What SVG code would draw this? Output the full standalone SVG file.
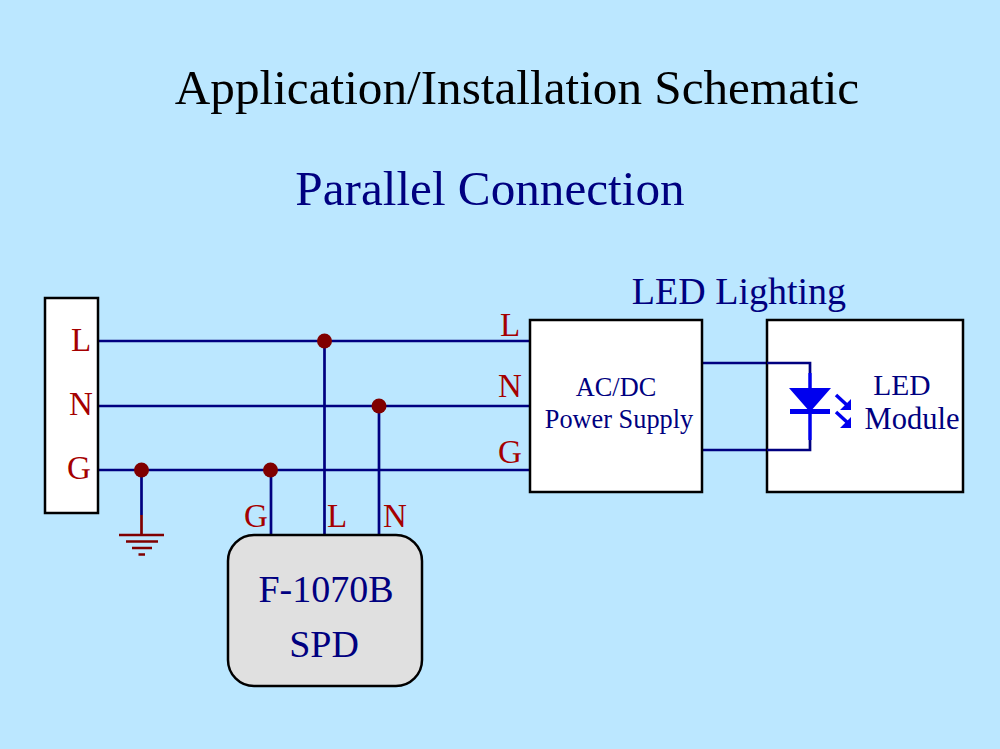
<svg xmlns="http://www.w3.org/2000/svg" width="1000" height="749" viewBox="0 0 1000 749">
<style>
text{font-family:"Liberation Serif","Times New Roman",serif}
.red{fill:#a50000;font-size:33px}
.navy{fill:#000080}
.box{fill:#fff;stroke:#000;stroke-width:2.5}
.w{fill:none;stroke:#000080;stroke-width:2.7}
.b{fill:none;stroke:#0000ee;stroke-width:3.5}
.bar{fill:none;stroke:#0000ee;stroke-width:5}
.g{fill:none;stroke:#800000;stroke-width:2.7}
.dot{fill:#800000}
</style>
<rect width="1000" height="749" fill="#bbe7ff"/>
<text x="517" y="104" text-anchor="middle" font-size="49.200" fill="#000">Application/Installation Schematic</text>
<text x="490" y="205" text-anchor="middle" font-size="49.200" class="navy">Parallel Connection</text>
<text x="739" y="304" text-anchor="middle" font-size="38" class="navy">LED Lighting</text>
<g id="connectors">
<path class="w" d="M99 341H530M99 406H530M99 470H530M324.500 341V536M379 406V536M271 470V536M141.500 470V515"/>
<path class="g" d="M141.500 515V535M119 535H164M126 541.500H158M132 548H152M138.500 554.500H145"/>
<path class="w" d="M702 363H767M702 450H767"/>
<circle class="dot" cx="324.500" cy="341" r="7.500"/>
<circle class="dot" cx="379" cy="406" r="7.500"/>
<circle class="dot" cx="141.500" cy="470" r="7.500"/>
<circle class="dot" cx="270.500" cy="470" r="7.500"/>
</g>
<g id="source">
<rect class="box" x="45" y="298" width="53" height="215"/>
<text class="red" x="81" y="351" text-anchor="middle">L</text>
<text class="red" x="81" y="415" text-anchor="middle">N</text>
<text class="red" x="79" y="479" text-anchor="middle">G</text>
</g>
<g id="line-labels">
<text class="red" x="510" y="336" text-anchor="middle">L</text>
<text class="red" x="510" y="397" text-anchor="middle">N</text>
<text class="red" x="510" y="463" text-anchor="middle">G</text>
<text class="red" x="256" y="527" text-anchor="middle">G</text>
<text class="red" x="337" y="527" text-anchor="middle">L</text>
<text class="red" x="395" y="527" text-anchor="middle">N</text>
</g>
<g id="spd">
<rect x="228" y="535" width="194" height="151" rx="26" fill="#e0e0e0" stroke="#000" stroke-width="2.500"/>
<text x="326" y="602" text-anchor="middle" font-size="38" class="navy">F-1070B</text>
<text x="324" y="657" text-anchor="middle" font-size="38" class="navy">SPD</text>
</g>
<g id="power-supply">
<rect class="box" x="530" y="320" width="172" height="172"/>
<text x="616" y="396" text-anchor="middle" font-size="26.300" class="navy">AC/DC</text>
<text x="619" y="428" text-anchor="middle" font-size="26.300" class="navy">Power Supply</text>
</g>
<g id="led-module">
<rect class="box" x="767" y="320" width="196" height="172"/>
<path class="w" d="M767 363H810V373M767 450H810V440"/>
<path class="b" d="M810 373V440"/>
<path d="M789 388H831L810 412Z" fill="#0000ee"/>
<path class="bar" d="M790 411.500H830"/>
<path class="b" d="M836 395L848 406M836 412L848 423"/>
<path d="M851 399V410H840ZM851 417V428H840Z" fill="#0000ee"/>
<text x="902" y="395" text-anchor="middle" font-size="29.500" class="navy">LED</text>
<text x="912" y="429" text-anchor="middle" font-size="30.500" class="navy">Module</text>
</g>
</svg>
